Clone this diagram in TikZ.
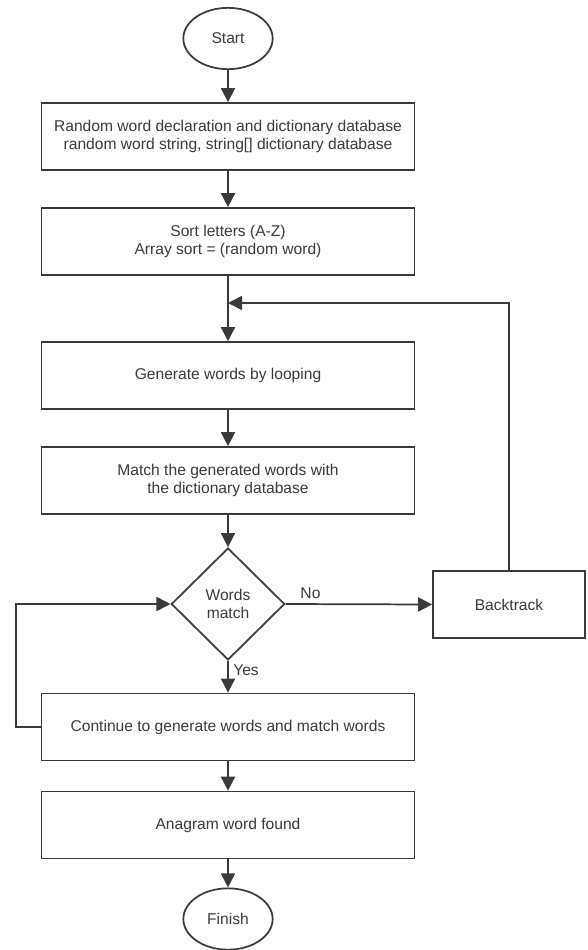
\documentclass[tikz,border=0pt]{standalone}
\usepackage{fontspec}
\setmainfont{Liberation Sans}
\usetikzlibrary{positioning}
\usetikzlibrary{arrows.meta}
\usetikzlibrary{shapes.geometric}
\definecolor{ink}{RGB}{58,58,58}

\begin{document}
\begin{tikzpicture}[x=0.75pt, y=-0.75pt,
    every node/.style={font=\fontsize{11.7}{13.2}\selectfont, text=ink},
    procbox/.style={draw=ink, line width=1.3pt, minimum width=279.75pt, minimum height=50.25pt, align=center, inner sep=0pt},
    termnode/.style={draw=ink, line width=1.3pt, ellipse, minimum width=67pt, minimum height=46pt, inner sep=0pt},
    decide/.style={draw=ink, line width=1.3pt, diamond, minimum width=85pt, minimum height=84pt, align=center, inner sep=0pt},
    flow/.style={draw=ink, line width=1.3pt, -{Triangle[length=10.5pt, width=10.5pt]}}]
    \useasboundingbox (0,0) rectangle (587,950);
    \node[termnode] (start) at (228, 38.5) {Start};
    \foreach \n/\y/\t in {decl/136.5/{Random word declaration and dictionary database\\random word string, string[] dictionary database},
                          sort/241.5/{Sort letters (A-Z)\\Array sort = (random word)},
                          gen/375.5/{Generate words by looping},
                          match/480.5/{Match the generated words with\\the dictionary database},
                          cont/727/{Continue to generate words and match words},
                          found/825/{Anagram word found}} {
        \node[procbox] (\n) at (228, \y) {\t};
    }
    \node[decide] (dec) at (228, 604) {Words\\match};
    \node[procbox, minimum width=114pt] (back) at (509, 604.5) {Backtrack};
    \node[termnode] (finish) at (228, 919) {Finish};
    % main column
    \foreach \a/\b in {start/decl, decl/sort, sort/gen, gen/match, match/dec, cont/found, found/finish}
        \draw[flow] (\a) -- (\b);
    \draw[flow] (dec.south) -- node[pos=0.3, right] (yeslab) {Yes} (cont.north);
    \draw[flow] (dec.east) -- node[pos=0.17, above] (nolab) {No} (back.west);
    % loops back
    \coordinate (join) at (228, 303);
    \coordinate (lbend) at (16, 604);
    \draw[flow] (back.north) |- (join);
    \draw[flow] (cont.west) -| (lbend) -- (dec.west);
\end{tikzpicture}
\end{document}
